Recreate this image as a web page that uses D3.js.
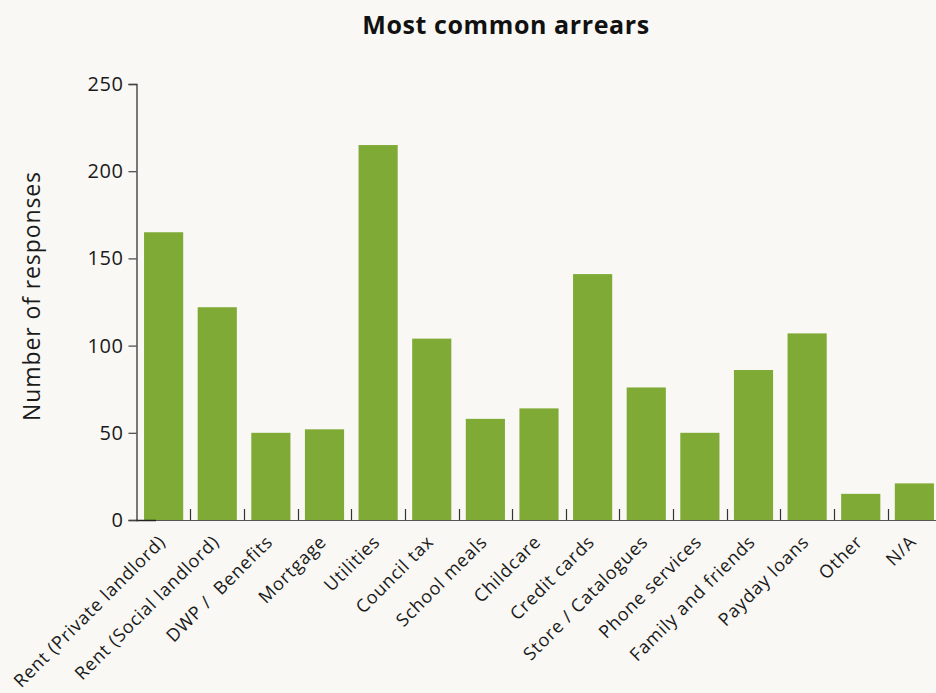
<!DOCTYPE html>
<html>
<head>
<meta charset="utf-8">
<script src="https://cdn.jsdelivr.net/npm/d3@7"></script>
<style>
  html, body { margin: 0; padding: 0; background: #f9f8f4; }
  svg { display: block; font-family: "Open Sans", "Noto Sans", sans-serif; }
</style>
</head>
<body>
<svg id="chart" width="936" height="693"></svg>
<script>
// Arrears categories and number of responses for each
const categories = [
  "Rent (Private landlord)", "Rent (Social landlord)", "DWP /  Benefits", "Mortgage",
  "Utilities", "Council tax", "School meals", "Childcare", "Credit cards",
  "Store / Catalogues", "Phone services", "Family and friends", "Payday loans",
  "Other", "N/A"
];
const responses = [165, 122, 50, 52, 215, 104, 58, 64, 141, 76, 50, 86, 107, 15, 21];
const yTicks = [0, 50, 100, 150, 200, 250];

const chartTitle = "Most common arrears";
const yTitle = "Number of responses";

const W = 936, H = 693;
const svg = d3.select("#chart");

svg.append("rect").attr("width", W).attr("height", H).attr("fill", "#f9f8f4");

const x = d3.scaleBand()
  .domain(categories)
  .range([136, 942])
  .paddingInner(0.27)
  .paddingOuter(0.15);

const y = d3.scaleLinear().domain([0, 250]).range([520, 84]);

// bars
svg.append("g").selectAll("rect")
  .data(categories)
  .join("rect")
  .attr("x", d => x(d))
  .attr("width", x.bandwidth())
  .attr("y", (d, i) => y(responses[i]))
  .attr("height", (d, i) => y(0) - y(responses[i]) + 1)
  .attr("fill", "#7faa35");

// x baseline with small inward ticks between bars
const gx = svg.append("g");
gx.append("line")
  .attr("x1", 136).attr("x2", W)
  .attr("y1", y(0) + 0.5).attr("y2", y(0) + 0.5)
  .attr("stroke", "#555").attr("stroke-width", 1.2);
gx.append("line")
  .attr("x1", 136).attr("x2", 156)
  .attr("y1", y(0) + 0.5).attr("y2", y(0) + 0.5)
  .attr("stroke", "#222").attr("stroke-width", 1.5);
const gap = x.step() * x.paddingInner() / 2;
gx.selectAll("line.tick")
  .data(categories.slice(1))
  .join("line")
  .attr("class", "tick")
  .attr("x1", d => Math.round(x(d) - gap) + 0.5)
  .attr("x2", d => Math.round(x(d) - gap) + 0.5)
  .attr("y1", y(0)).attr("y2", y(0) - 11)
  .attr("stroke", "#333").attr("stroke-width", 1.2);

// rotated category labels
gx.selectAll("text")
  .data(categories)
  .join("text")
  .attr("transform", d => `translate(${x(d) + x.bandwidth() / 2 + 3},${y(0) + 23}) rotate(-45)`)
  .attr("text-anchor", "end")
  .attr("font-size", 18)
  .attr("letter-spacing", 0.8)
  .attr("fill", "#1a1a1a")
  .attr("xml:space", "preserve")
  .style("white-space", "pre")
  .text(d => d);

// y axis
const yAxis = d3.axisLeft(y).tickValues(yTicks).tickSize(8).tickPadding(5);
const gy = svg.append("g").attr("transform", "translate(136.5,0)").call(yAxis);
gy.select(".domain").attr("stroke", "#333").attr("stroke-width", 1.3);
gy.selectAll(".tick line").attr("stroke", "#444").attr("stroke-width", 1.2);
gy.selectAll(".tick text")
  .attr("font-size", 20)
  .attr("letter-spacing", 0.6)
  .attr("font-family", "\"Open Sans\", sans-serif")
  .attr("fill", "#1a1a1a");

// y axis title
svg.append("text")
  .attr("transform", `translate(40,296) rotate(-90)`)
  .attr("text-anchor", "middle")
  .attr("font-size", 23)
  .attr("letter-spacing", 0.9)
  .attr("fill", "#1a1a1a")
  .text(yTitle);

// chart title
svg.append("text")
  .attr("x", 506).attr("y", 34)
  .attr("text-anchor", "middle")
  .attr("font-size", 25)
  .attr("letter-spacing", 0.6)
  .attr("font-weight", "bold")
  .attr("fill", "#111")
  .text(chartTitle);
</script>
</body>
</html>
